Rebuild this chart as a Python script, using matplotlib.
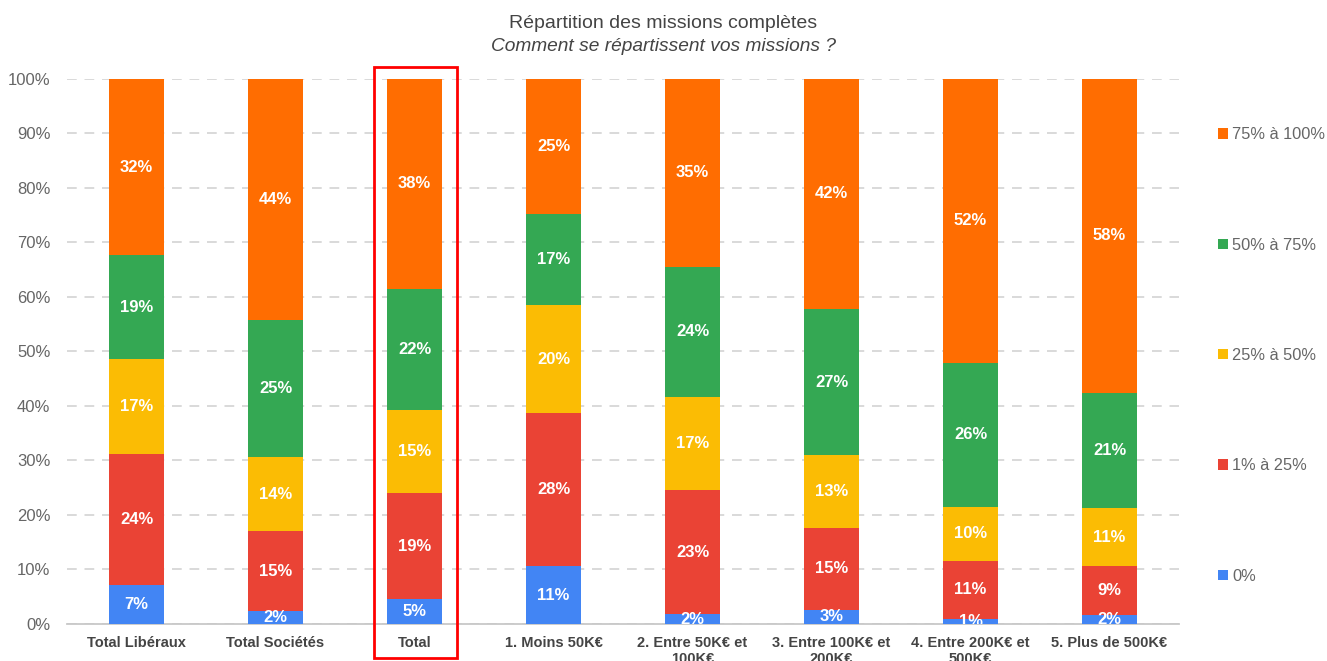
import numpy as np
import matplotlib
matplotlib.use("Agg")
import matplotlib.pyplot as plt
from matplotlib.patches import Rectangle

plt.rcParams["font.family"] = ["Liberation Sans", "DejaVu Sans"]

# --- data (share of missions, %) ---------------------------------------
categories = ["Total Libéraux", "Total Sociétés", "Total", "1. Moins 50K€",
              "2. Entre 50K€ et\n100K€", "3. Entre 100K€ et\n200K€",
              "4. Entre 200K€ et\n500K€", "5. Plus de 500K€"]
series_names = ["0%", "1% à 25%", "25% à 50%", "50% à 75%", "75% à 100%"]
s_0 = [7.2, 2.4, 4.6, 10.6, 1.8, 2.6, 0.9, 1.7]
s_1_25 = [24.0, 14.6, 19.4, 28.1, 22.8, 15.0, 10.7, 8.9]
s_25_50 = [17.4, 13.6, 15.2, 19.8, 17.1, 13.4, 9.9, 10.7]
s_50_75 = [19.1, 25.1, 22.3, 16.7, 23.8, 26.8, 26.4, 21.1]
s_75_100 = [32.3, 44.3, 38.5, 24.8, 34.6, 42.2, 52.1, 57.6]
highlight = "Total"

colors = ["#4285F4", "#EA4335", "#FBBC04", "#34A853", "#FF6D01"]

fig = plt.figure(figsize=(13.27, 6.61), dpi=100)
ax = fig.add_axes([0.0505, 0.056, 0.838, 0.8245])

x = np.arange(len(categories))
bottom = np.zeros(len(categories))
handles = []
for name, vals, col in zip(series_names,
                           [s_0, s_1_25, s_25_50, s_50_75, s_75_100], colors):
    vals = np.array(vals)
    h = ax.bar(x, vals, 0.4, bottom=bottom, color=col, zorder=3, label=name)
    handles.append(h)
    for xi, b, v in zip(x, bottom, vals):
        ax.text(xi, b + v / 2, f"{v:.0f}%", ha="center", va="center",
                color="white", fontsize=12, fontweight="bold", zorder=4,
                clip_on=True)
    bottom += vals

ax.set_xlim(-0.5, len(categories) - 0.5)
ax.set_ylim(0, 100)
ax.set_yticks(np.arange(0, 101, 10))
ax.set_yticklabels([f"{v}%" for v in range(0, 101, 10)])
ax.set_xticks(x)
ax.set_xticklabels(categories, fontweight="bold", color="#444444",
                   fontsize=10.5, linespacing=1.1)
ax.tick_params(axis="y", length=0, labelsize=12, labelcolor="#666666", pad=12)
ax.tick_params(axis="x", length=0, pad=9)
for s in ["top", "right", "left"]:
    ax.spines[s].set_visible(False)
ax.spines["bottom"].set_color("#c8c8c8")
ax.spines["bottom"].set_linewidth(1.3)
ax.yaxis.grid(True, color="#d9d9d9", linestyle=(0, (5, 4)), linewidth=1.4,
              zorder=0)
ax.set_axisbelow(True)

# red frame around the highlighted bar
i = categories.index(highlight)
ax.add_patch(Rectangle((i - 0.295, -6.2), 0.6, 108.4, fill=False,
                       edgecolor="#ff0000", linewidth=2, clip_on=False,
                       zorder=5))

fig.text(0.5, 0.965, "Répartition des missions complètes", ha="center",
         va="center", fontsize=14, color="#444444")
fig.text(0.5, 0.929, "Comment se répartissent vos missions ?", ha="center",
         va="center", fontsize=13.8, color="#444444", style="italic")

leg = fig.legend(handles[::-1], series_names[::-1], loc="upper left",
                 bbox_to_anchor=(0.912, 0.82), frameon=False,
                 fontsize=11.8, handlelength=0.6, handleheight=0.6,
                 handletextpad=0.25, labelspacing=5.82, borderpad=0)
for t in leg.get_texts():
    t.set_color("#666666")

fig.savefig("out.png", dpi=100)
